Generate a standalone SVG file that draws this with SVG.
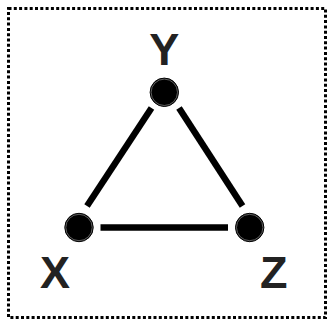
<svg xmlns="http://www.w3.org/2000/svg" width="327" height="322" viewBox="0 0 327 322">
<style>
.frame{fill:none;stroke:#000;stroke-width:3;stroke-dasharray:3 2.3}
.edge{stroke:#000;stroke-width:6.5;stroke-linecap:butt}
.dot{fill:#000;stroke:#000;stroke-width:1}
.ring{fill:none;stroke:#888;stroke-width:0.7}
.lbl{font-family:"Liberation Sans",Arial,sans-serif;font-weight:bold;font-size:45px;fill:#222;text-anchor:middle}
</style>
<rect class="frame" x="8.5" y="8.5" width="317" height="309"/>
<g id="connectors">
<line class="edge" x1="151.5" y1="108" x2="87" y2="206"/>
<line class="edge" x1="179" y1="108" x2="242.5" y2="206"/>
<line class="edge" x1="100.5" y1="227.5" x2="228" y2="227.5"/>
</g>
<g id="node-Y">
<circle class="dot" cx="164.3" cy="92.3" r="14.2"/>
<circle class="ring" cx="164.3" cy="92.3" r="13.2"/>
<text class="lbl" x="164.3" y="65">Y</text>
</g>
<g id="node-X">
<circle class="dot" cx="79" cy="227.5" r="14.2"/>
<circle class="ring" cx="79" cy="227.5" r="13.2"/>
<text class="lbl" x="55" y="288">X</text>
</g>
<g id="node-Z">
<circle class="dot" cx="249.7" cy="227.5" r="14.2"/>
<circle class="ring" cx="249.7" cy="227.5" r="13.2"/>
<text class="lbl" x="273.7" y="288">Z</text>
</g>
</svg>
